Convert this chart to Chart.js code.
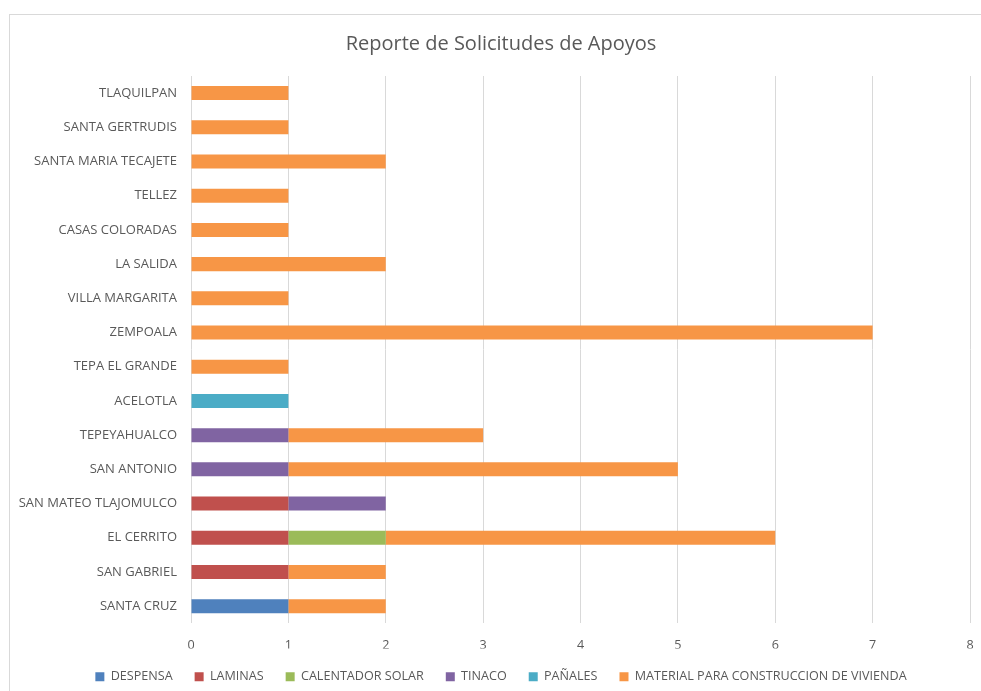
<!DOCTYPE html>
<html>
<head>
<meta charset="utf-8">
<script src="https://cdn.jsdelivr.net/npm/chart.js@4.4.0/dist/chart.umd.min.js"></script>
<style>
  html, body { margin: 0; padding: 0; background: #fff; }
  #frame {
    position: absolute; left: 9px; top: 14px;
    width: 1000px; height: 700px;
    border: 1px solid #d9d9d9; box-sizing: border-box;
  }
  #wrap { position: absolute; left: 0; top: 0; width: 981px; height: 691px; }
</style>
</head>
<body>
<div id="frame"></div>
<div id="wrap"><canvas id="chart" width="981" height="691"></canvas></div>
<script>
const localidades = [
  'TLAQUILPAN', 'SANTA GERTRUDIS', 'SANTA MARIA TECAJETE', 'TELLEZ',
  'CASAS COLORADAS', 'LA SALIDA', 'VILLA MARGARITA', 'ZEMPOALA',
  'TEPA EL GRANDE', 'ACELOTLA', 'TEPEYAHUALCO', 'SAN ANTONIO',
  'SAN MATEO TLAJOMULCO', 'EL CERRITO', 'SAN GABRIEL', 'SANTA CRUZ'
];

const despensa    = [0, 0, 0, 0, 0, 0, 0, 0, 0, 0, 0, 0, 0, 0, 0, 1];
const laminas     = [0, 0, 0, 0, 0, 0, 0, 0, 0, 0, 0, 0, 1, 1, 1, 0];
const calentador  = [0, 0, 0, 0, 0, 0, 0, 0, 0, 0, 0, 0, 0, 1, 0, 0];
const tinaco      = [0, 0, 0, 0, 0, 0, 0, 0, 0, 0, 1, 1, 1, 0, 0, 0];
const panales     = [0, 0, 0, 0, 0, 0, 0, 0, 0, 1, 0, 0, 0, 0, 0, 0];
const material    = [1, 1, 2, 1, 1, 2, 1, 7, 1, 0, 2, 4, 0, 4, 1, 1];

const xTicks = [0, 1, 2, 3, 4, 5, 6, 7, 8];

const textColor = '#595959';
const fontFamily = '"Open Sans", "Liberation Sans", sans-serif';

function serie(label, data, color) {
  return {
    label: label,
    data: data,
    backgroundColor: color,
    borderColor: color,
    borderWidth: 0,
    categoryPercentage: 1,
    barPercentage: 0.41
  };
}

// the frame of the original chart is wider than the window, so title and
// legend sit a bit right of the canvas centre
const nudgeBlocks = {
  id: 'nudgeBlocks',
  afterLayout(chart) {
    chart.legend.left += 16;
    chart.legend.right += 16;
    chart.titleBlock.left += 16;
    chart.titleBlock.right += 16;
  }
};

new Chart(document.getElementById('chart'), {
  type: 'bar',
  data: {
    labels: localidades,
    datasets: [
      serie('DESPENSA', despensa, '#4f81bd'),
      serie('LAMINAS', laminas, '#c0504d'),
      serie('CALENTADOR SOLAR', calentador, '#9bbb59'),
      serie('TINACO', tinaco, '#8064a2'),
      serie('PAÑALES', panales, '#4bacc6'),
      serie('MATERIAL PARA CONSTRUCCION DE VIVIENDA', material, '#f79646')
    ]
  },
  plugins: [nudgeBlocks],
  options: {
    indexAxis: 'y',
    responsive: false,
    animation: false,
    layout: { padding: { left: 0, right: 11, top: 32, bottom: -2 } },
    plugins: {
      title: {
        display: true,
        text: 'Reporte de Solicitudes de Apoyos',
        color: textColor,
        font: { family: fontFamily, size: 20, weight: 'normal' },
        padding: { top: 0, bottom: 20 }
      },
      legend: {
        position: 'bottom',
        labels: {
          color: textColor,
          font: { family: fontFamily, size: 12.6 },
          boxWidth: 9,
          boxHeight: 9,
          padding: 22
        }
      },
      tooltip: { enabled: false }
    },
    scales: {
      x: {
        stacked: true,
        min: 0,
        max: 8,
        afterBuildTicks: (scale) => { scale.ticks = xTicks.map(v => ({ value: v })); },
        afterFit: (scale) => {
          scale.height -= 20;
          scale.paddingRight = 0;
        },
        grid: { color: '#d9d9d9', lineWidth: 1, drawTicks: false },
        border: { display: false },
        ticks: { color: textColor, font: { family: fontFamily, size: 12.6 }, padding: 15 }
      },
      y: {
        stacked: true,
        afterFit: (scale) => { scale.width = 191; },
        grid: { display: false },
        border: { display: false },
        ticks: { color: textColor, font: { family: fontFamily, size: 13 }, padding: 6, autoSkip: false }
      }
    }
  }
});
</script>
</body>
</html>
